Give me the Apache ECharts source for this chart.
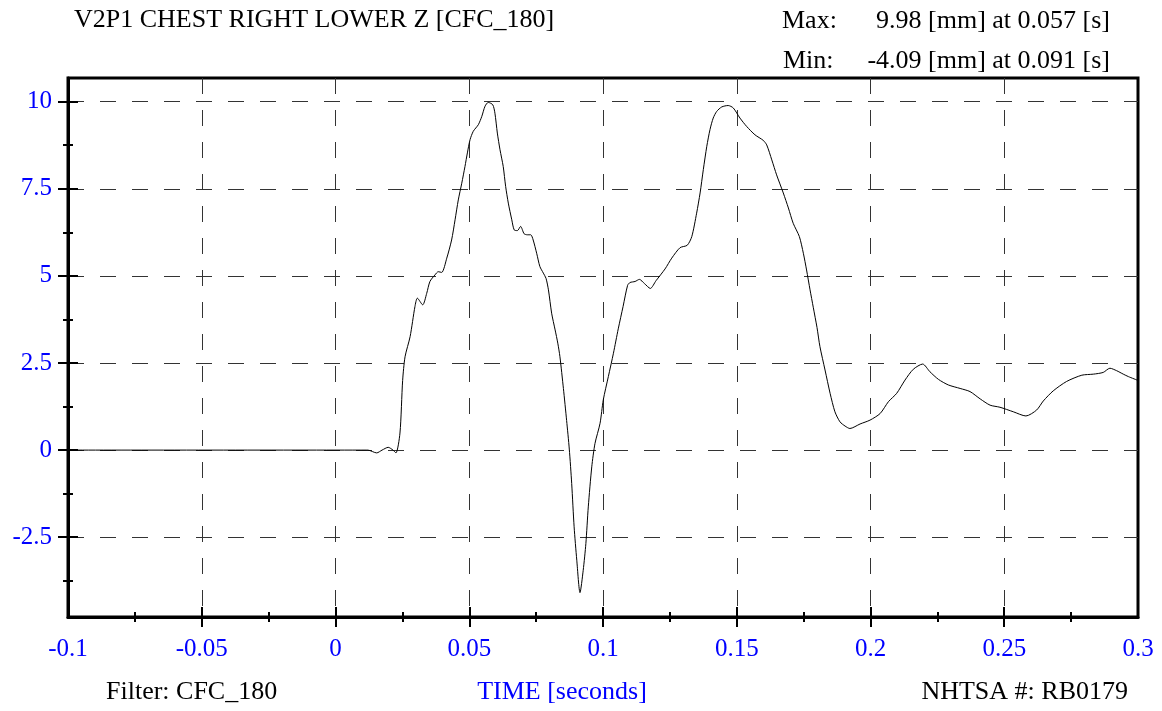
<!DOCTYPE html>
<html><head><meta charset="utf-8">
<script src="https://cdn.jsdelivr.net/npm/echarts@6/dist/echarts.min.js"></script>
<style>html,body{margin:0;padding:0;background:#fff}#c{width:1162px;height:711px}</style>
</head><body><div id="c"></div>
<script>
const titleText = 'V2P1 CHEST RIGHT LOWER Z [CFC_180]';
const filterText = 'Filter: CFC_180';
const idText = 'NHTSA #: RB0179';
const xAxisName = 'TIME [seconds]';
const unit = 'mm';
const xMin = -0.1, xMax = 0.3;
const yMin = -4.79, yMax = 10.68;
const xMajorTicks = [-0.1, -0.05, 0, 0.05, 0.1, 0.15, 0.2, 0.25, 0.3];
const xMinorTicks = [-0.075, -0.025, 0.025, 0.075, 0.125, 0.175, 0.225, 0.275];
const yMajorTicks = [-2.5, 0, 2.5, 5, 7.5, 10];
const yMinorTicks = [-3.75, -1.25, 1.25, 3.75, 6.25, 8.75];

const times = [
 -0.1, 0.0092, 0.0121, 0.0154, 0.0174, 0.0197, 0.0215, 0.0226, 0.0241, 0.0251,
 0.0260, 0.0279, 0.0297, 0.0306, 0.0326, 0.0341, 0.0353, 0.0372, 0.0384, 0.0397,
 0.0416, 0.0434, 0.0447, 0.0459, 0.0472, 0.0484, 0.0493, 0.0503, 0.0515, 0.0534,
 0.0547, 0.0559, 0.0571, 0.0588, 0.0596, 0.0605, 0.0615, 0.0627, 0.0636, 0.0646,
 0.0659, 0.0668, 0.0680, 0.0692, 0.0705, 0.0717, 0.0730, 0.0739, 0.0752, 0.0764,
 0.0777, 0.0787, 0.0796, 0.0808, 0.0821, 0.0831, 0.0839, 0.0852, 0.0864, 0.0874,
 0.0883, 0.0892, 0.0902, 0.0914, 0.0926, 0.0936, 0.0945, 0.0958, 0.0970, 0.0989,
 0.1001, 0.1020, 0.1039, 0.1057, 0.1075, 0.1092, 0.1101, 0.1120, 0.1136, 0.1155,
 0.1177, 0.1198, 0.1232, 0.1257, 0.1288, 0.1315, 0.1332, 0.1350, 0.1363, 0.1375,
 0.1388, 0.1400, 0.1412, 0.1425, 0.1444, 0.1468, 0.1487, 0.1512, 0.1537, 0.1568,
 0.1599, 0.1612, 0.1631, 0.1649, 0.1674, 0.1693, 0.1711, 0.1734, 0.1749, 0.1761,
 0.1774, 0.1786, 0.1800, 0.1811, 0.1830, 0.1849, 0.1867, 0.1886, 0.1905, 0.1923,
 0.1961, 0.1998, 0.2036, 0.2067, 0.2098, 0.2129, 0.2160, 0.2195, 0.2222, 0.2254,
 0.2291, 0.2335, 0.2372, 0.2410, 0.2447, 0.2484, 0.2534, 0.2581, 0.2621, 0.2646,
 0.2683, 0.2733, 0.2790, 0.2833, 0.2870, 0.2895, 0.2920, 0.2945, 0.2964, 0.3
];
const values = [
 0, 0, 0, -0.08, 0.0, 0.08, 0.0, -0.08, 0.49, 2.0,
 2.68, 3.26, 4.12, 4.36, 4.17, 4.5, 4.84, 5.03, 5.12, 5.1,
 5.51, 6.03, 6.61, 7.18, 7.66, 8.14, 8.53, 8.91, 9.15, 9.34,
 9.58, 9.87, 9.98, 9.91, 9.67, 9.1, 8.62, 8.14, 7.57, 7.09,
 6.61, 6.32, 6.30, 6.42, 6.21, 6.18, 6.18, 6.03, 5.65, 5.27,
 5.08, 4.93, 4.6, 3.93, 3.45, 3.07, 2.68, 1.77, 0.85, 0.03,
 -0.96, -2.2, -3.16, -4.09, -3.45, -2.68, -1.63, -0.48, 0.19, 0.77,
 1.44, 2.11, 2.78, 3.48, 4.12, 4.73, 4.81, 4.84, 4.90, 4.78,
 4.64, 4.86, 5.2, 5.51, 5.81, 5.88, 6.13, 6.80, 7.38, 8.05,
 8.72, 9.20, 9.53, 9.72, 9.85, 9.89, 9.82, 9.53, 9.29, 9.05,
 8.89, 8.76, 8.33, 7.90, 7.38, 6.95, 6.51, 6.13, 5.65, 5.17,
 4.60, 4.1, 3.52, 2.97, 2.30, 1.63, 1.10, 0.81, 0.69, 0.62,
 0.75, 0.86, 1.05, 1.39, 1.63, 2.01, 2.32, 2.47, 2.25, 2.03,
 1.87, 1.77, 1.68, 1.47, 1.29, 1.23, 1.10, 0.98, 1.15, 1.41,
 1.70, 1.97, 2.15, 2.18, 2.23, 2.35, 2.28, 2.18, 2.11, 2.0
];

const FONT = '"Liberation Serif", "Times New Roman", serif';
const FS = 25;   // tick labels
const TFS = 26;  // other texts
const BLUE = '#0000ff';
const series = times.map((t, i) => [t, values[i]]);

let iMax = 0, iMin = 0;
values.forEach((v, i) => { if (v > values[iMax]) iMax = i; if (v < values[iMin]) iMin = i; });
const maxText = values[iMax].toFixed(2) + ' [' + unit + '] at ' + times[iMax].toFixed(3) + ' [s]';
const minText = values[iMin].toFixed(2) + ' [' + unit + '] at ' + times[iMin].toFixed(3) + ' [s]';

const inner = (arr, lo, hi) => arr.filter(v => v > lo + 1e-9 && v < hi - 1e-9);
const xTickMaj = inner(xMajorTicks, xMin, xMax);
const yTickMaj = inner(yMajorTicks, yMin, yMax);

function xAx(ticks, inside, len, main) {
  return {
    type: 'value', min: xMin, max: xMax, position: 'bottom', gridIndex: 0,
    axisLine: { show: !!main, onZero: false, lineStyle: { color: '#000', width: 3 } },
    axisTick: { show: true, inside: inside, length: len, customValues: ticks, lineStyle: { color: '#000', width: 2 } },
    axisLabel: main ? { show: true, customValues: xMajorTicks, color: BLUE, fontFamily: FONT, fontSize: FS, margin: 20,
      formatter: v => String(+v.toFixed(3)) } : { show: false },
    splitLine: main ? { show: true, lineStyle: { color: '#333', width: 1, type: [16, 16] } } : { show: false }
  };
}
function yAx(ticks, inside, len, main) {
  return {
    type: 'value', min: yMin, max: yMax, position: 'left', gridIndex: 0,
    axisLine: { show: !!main, onZero: false, lineStyle: { color: '#000', width: 3 } },
    axisTick: { show: true, inside: inside, length: len, customValues: ticks, lineStyle: { color: '#000', width: 2 } },
    axisLabel: main ? { show: true, customValues: yMajorTicks, color: BLUE, fontFamily: FONT, fontSize: FS, margin: 16,
      formatter: v => String(+v.toFixed(3)) } : { show: false },
    splitLine: main ? { show: true, lineStyle: { color: '#333', width: 1, type: [16, 16] } } : { show: false }
  };
}

const chart = echarts.init(document.getElementById('c'), null, { renderer: 'canvas' });
chart.setOption({
  animation: false,
  backgroundColor: '#fff',
  grid: { left: 68, right: 24, top: 78, bottom: 94, show: true, borderColor: '#000', borderWidth: 3, backgroundColor: 'transparent' },
  xAxis: [
    xAx(xTickMaj, false, 10, true),
    xAx(xTickMaj, true, 10, false),
    xAx(xMinorTicks, false, 5, false),
    xAx(xMinorTicks, true, 5, false)
  ],
  yAxis: [
    yAx(yTickMaj, false, 10, true),
    yAx(yTickMaj, true, 10, false),
    yAx(yMinorTicks, false, 5, false),
    yAx(yMinorTicks, true, 5, false)
  ],
  series: [{
    type: 'line', xAxisIndex: 0, yAxisIndex: 0, data: series, showSymbol: false, smooth: 0.25,
    lineStyle: { color: '#000', width: 1 }, z: 5
  }],
  graphic: [
    { type: 'text', x: 74, y: 20, style: { text: titleText, font: TFS + 'px ' + FONT, fill: '#000', verticalAlign: 'middle' } },
    { type: 'text', x: 782, y: 21, style: { text: 'Max:', font: TFS + 'px ' + FONT, fill: '#000', verticalAlign: 'middle' } },
    { type: 'text', x: 1110, y: 21, style: { text: maxText, font: TFS + 'px ' + FONT, fill: '#000', align: 'right', verticalAlign: 'middle' } },
    { type: 'text', x: 783, y: 61, style: { text: 'Min:', font: TFS + 'px ' + FONT, fill: '#000', verticalAlign: 'middle' } },
    { type: 'text', x: 1110, y: 61, style: { text: minText, font: TFS + 'px ' + FONT, fill: '#000', align: 'right', verticalAlign: 'middle' } },
    { type: 'text', x: 106, y: 692, style: { text: filterText, font: TFS + 'px ' + FONT, fill: '#000', verticalAlign: 'middle' } },
    { type: 'text', x: 562, y: 692, style: { text: xAxisName, font: TFS + 'px ' + FONT, fill: BLUE, align: 'center', verticalAlign: 'middle' } },
    { type: 'text', x: 1128, y: 692, style: { text: idText, font: TFS + 'px ' + FONT, fill: '#000', align: 'right', verticalAlign: 'middle' } }
  ]
});
</script></body></html>
